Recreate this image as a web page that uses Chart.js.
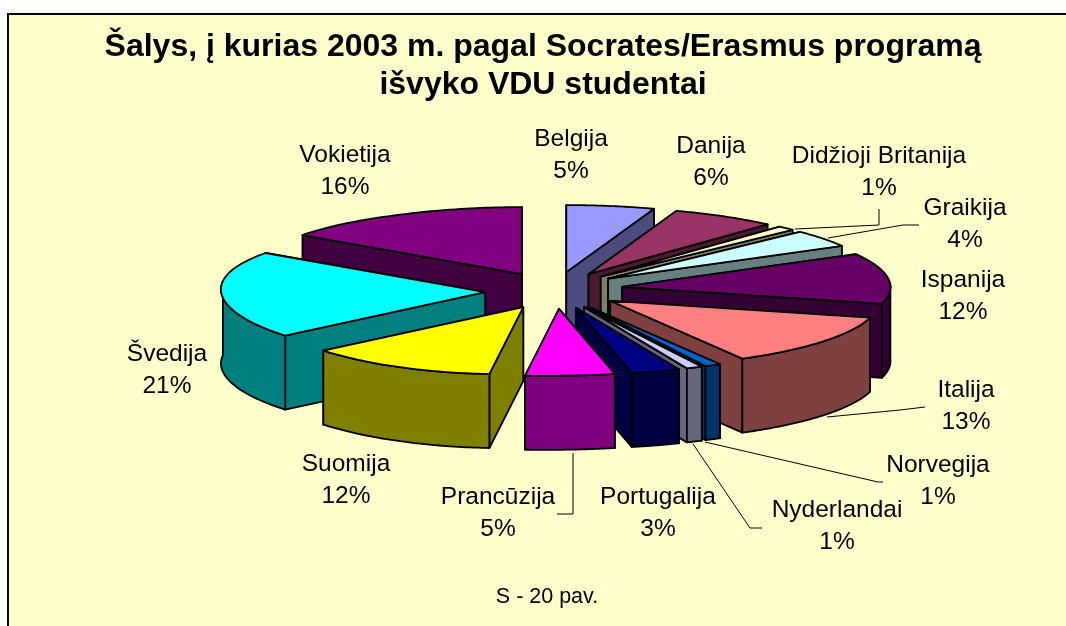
<!DOCTYPE html>
<html>
<head>
<meta charset="utf-8">
<title>Socrates/Erasmus</title>
<script src="https://cdn.jsdelivr.net/npm/chart.js@4/dist/chart.umd.min.js"></script>
<style>
  html, body { margin: 0; padding: 0; background: #fff; overflow: hidden; }
  canvas { display: block; }
</style>
</head>
<body>
<canvas id="pie3d" width="1066" height="626"></canvas>
<script>
const titleLines = ['Šalys, į kurias 2003 m. pagal Socrates/Erasmus programą', 'išvyko VDU studentai'];
const caption = 'S - 20 pav.';
const countries = ['Belgija', 'Danija', 'Didžioji Britanija', 'Graikija', 'Ispanija', 'Italija', 'Norvegija', 'Nyderlandai', 'Portugalija', 'Prancūzija', 'Suomija', 'Švedija', 'Vokietija'];
const shares = [5, 6, 1, 4, 12, 13, 1, 1, 3, 5, 12, 21, 16];
const sliceColors = ['#9999FF', '#993366', '#FFFFCC', '#CCFFFF', '#660066', '#FF8080', '#0066CC', '#CCCCFF', '#000080', '#FF00FF', '#FFFF00', '#00FFFF', '#800080'];

// where each data label sits (centre x, y of first line), same order as countries
const labelSpots = [[571, 139], [711, 146], [879, 156], [965, 208], [963, 280], [966, 390], [938, 465], [837, 510], [658, 497], [498, 497], [346, 464], [167, 354], [345, 155]];
const leaderLines = [
    [[879, 209], [879, 225], [795, 229]],
    [[919, 225], [903, 225], [828, 238]],
    [[925, 407], [900, 410], [827, 417]],
    [[883, 482], [878, 482], [705, 442]],
    [[762, 528], [750, 528], [693, 444]],
    [[557, 514], [573, 514], [573, 453]]
];

const RADIUS = 265;
const EXPLODE = 69;
const TILT = 0.253;
const EXPLODE_TILT = 0.268;
const DEPTH = 74;
const SHIFT_X = 12.5;
const LABEL_FONT = '24.5px "Liberation Sans", Arial, sans-serif';

const halfTone = hex => {
    const n = parseInt(hex.slice(1), 16);
    return `rgb(${(n >> 16) >> 1}, ${((n >> 8) & 255) >> 1}, ${(n & 255) >> 1})`;
};

// rim point of a slice relative to its tip, a = clockwise from 12 o'clock
// the extra terms copy the slight skew of the original 3D view
const rimOffset = a => {
    const s = Math.sin(a), c = Math.cos(a);
    const rx = s > 0 ? RADIUS * 1.026 : RADIUS * 0.974;
    let x = s * rx * (1 + 0.05 * c) + 6 * c - 6;
    if (s > 0) x += 2 * (1 - c) * Math.min(1, s / 0.3);
    if (s < 0 && c < 0) x += 6 * c * Math.min(1, -s / 0.06) - 8 * s * c;
    if (s < 0 && c >= 0) x += 13 * c * Math.min(1, -s / 0.5);
    return [x, -c * RADIUS * TILT + 4.5 * s * Math.abs(s)];
};

const outlinePoly = (ctx, pts, fill) => {
    ctx.beginPath();
    pts.forEach((p, i) => i ? ctx.lineTo(p[0], p[1]) : ctx.moveTo(p[0], p[1]));
    ctx.closePath();
    ctx.fillStyle = fill;
    ctx.fill();
    ctx.stroke();
};

const drawSlice = (ctx, arc, color) => {
    const a0 = arc.startAngle + Math.PI / 2;
    const a1 = arc.endAngle + Math.PI / 2;
    const mid = (a0 + a1) / 2;
    const tipX = arc.x + SHIFT_X + arc.options.offset * Math.sin(mid) + 1.5 * (Math.cos(mid) - 1);
    const tipY = arc.y - arc.options.offset * Math.cos(mid) * EXPLODE_TILT;
    const rim = [];
    for (let k = 0; k <= 48; k++) {
        const o = rimOffset(a0 + (a1 - a0) * k / 48);
        rim.push([tipX + o[0], tipY + o[1]]);
    }
    const down = p => [p[0], p[1] + DEPTH];
    const tip = [tipX, tipY];
    const wall = halfTone(color);
    const first = rim[0], last = rim[rim.length - 1];
    // back cut face first
    const cuts = [[tip, first, down(first), down(tip)], [tip, last, down(last), down(tip)]];
    cuts.sort((p, q) => p[1][1] - q[1][1]);
    cuts.forEach(f => outlinePoly(ctx, f, wall));
    const front = rim.filter((p, k) => Math.cos(a0 + (a1 - a0) * k / 48) < 0.1);
    if (front.length > 1) {
        outlinePoly(ctx, front.concat(front.slice().reverse().map(down)), wall);
    }
    outlinePoly(ctx, [tip].concat(rim), color);
};

const pie3d = {
    id: 'pie3d',
    beforeDraw(chart) {
        const {ctx, width, height} = chart;
        ctx.save();
        ctx.fillStyle = '#FFFFCC';
        ctx.fillRect(8, 13, width - 8, height - 13);
        ctx.fillStyle = '#000';
        ctx.fillRect(7, 13, 2, height - 13);
        ctx.fillRect(7, 13, width - 7, 2);
        ctx.restore();
    },
    beforeDatasetDraw(chart, args) {
        const {ctx} = chart;
        const arcs = args.meta.data.map((arc, i) => ({arc, i}));
        const backness = o => Math.cos((o.arc.startAngle + o.arc.endAngle) / 2 + Math.PI / 2);
        arcs.sort((p, q) => backness(q) - backness(p));
        ctx.save();
        ctx.strokeStyle = '#000';
        ctx.lineWidth = 1.8;
        ctx.lineJoin = 'round';
        arcs.forEach(o => drawSlice(ctx, o.arc, sliceColors[o.i]));
        ctx.restore();
        return false;
    },
    afterDraw(chart) {
        const {ctx} = chart;
        ctx.save();
        ctx.strokeStyle = '#000';
        ctx.lineWidth = 1;
        leaderLines.forEach(line => {
            ctx.beginPath();
            line.forEach((p, i) => i ? ctx.lineTo(p[0], p[1]) : ctx.moveTo(p[0], p[1]));
            ctx.stroke();
        });
        ctx.fillStyle = '#000';
        ctx.textAlign = 'center';
        ctx.textBaseline = 'middle';
        ctx.font = LABEL_FONT;
        countries.forEach((name, i) => {
            ctx.fillText(name, labelSpots[i][0], labelSpots[i][1]);
            ctx.fillText(shares[i] + '%', labelSpots[i][0], labelSpots[i][1] + 32);
        });
        ctx.font = '21.5px "Liberation Sans", Arial, sans-serif';
        ctx.fillText(caption, 547, 597);
        ctx.restore();
    }
};

new Chart(document.getElementById('pie3d').getContext('2d'), {
    type: 'pie',
    data: {
        labels: countries,
        datasets: [{
            data: shares,
            backgroundColor: sliceColors,
            borderColor: '#000',
            borderWidth: 1,
            offset: EXPLODE,
            radius: RADIUS
        }]
    },
    plugins: [pie3d],
    options: {
        responsive: false,
        animation: false,
        events: [],
        layout: {padding: {left: 20, bottom: 153}},
        plugins: {
            legend: {display: false},
            tooltip: {enabled: false},
            title: {
                display: true,
                fullSize: false,
                text: titleLines,
                color: '#000',
                font: {family: '"Liberation Sans", Arial, sans-serif', size: 32, weight: 'bold', lineHeight: 1.2},
                padding: {top: 28, bottom: 3}
            }
        }
    }
});
</script>
</body>
</html>
